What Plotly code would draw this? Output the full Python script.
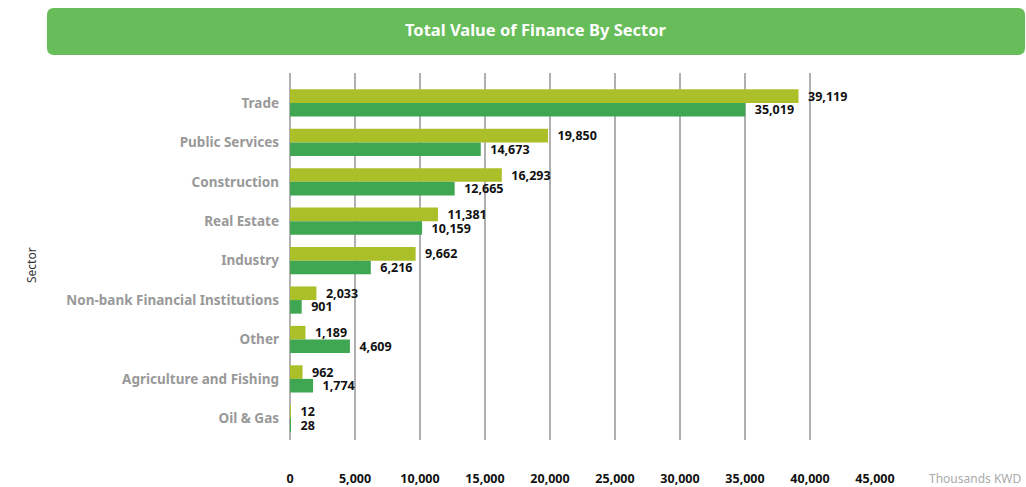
import plotly.graph_objects as go

sectors = ["Trade", "Public Services", "Construction", "Real Estate", "Industry",
           "Non-bank Financial Institutions", "Other", "Agriculture and Fishing", "Oil & Gas"]
series_a = [39119, 19850, 16293, 11381, 9662, 2033, 1189, 962, 12]
series_b = [35019, 14673, 12665, 10159, 6216, 901, 4609, 1774, 28]
x_ticks = [0, 5000, 10000, 15000, 20000, 25000, 30000, 35000, 40000, 45000]

FONT = "Noto Sans"
W, H = 1026, 487
ML, MR, MT, MB = 290, 151, 73, 47
PW, PH = W - ML - MR, H - MT - MB

def px2paper(x, y):
    return (x - ML) / PW, (H - MB - y) / PH

PAD = "\u00a0\u00a0"
label_font = dict(family=FONT, size=12.5, color="#111111", weight="bold")

fig = go.Figure()
fig.add_trace(go.Bar(
    y=sectors, x=series_a, orientation="h", name="Series A",
    marker=dict(color="#ABBF28", line=dict(width=0)),
    text=[PAD + f"{v:,}" for v in series_a], textposition="outside",
    textfont=label_font, constraintext="none", cliponaxis=False,
))
fig.add_trace(go.Bar(
    y=sectors, x=series_b, orientation="h", name="Series B",
    marker=dict(color="#3FA652", line=dict(width=0)),
    text=[PAD + f"{v:,}" for v in series_b], textposition="outside",
    textfont=label_font, constraintext="none", cliponaxis=False,
))

# rounded title banner
x0, x1, y0, y1, r = 47, 1025, 8, 55, 7
def P(x, y):
    a, b = px2paper(x, y)
    return f"{a:.5f},{b:.5f}"
path = (f"M {P(x0+r, y0)} L {P(x1-r, y0)} Q {P(x1, y0)} {P(x1, y0+r)} "
        f"L {P(x1, y1-r)} Q {P(x1, y1)} {P(x1-r, y1)} L {P(x0+r, y1)} "
        f"Q {P(x0, y1)} {P(x0, y1-r)} L {P(x0, y0+r)} Q {P(x0, y0)} {P(x0+r, y0)} Z")

tx, ty = px2paper(536, 29)
kx, ky = px2paper(975, 479)
sx, sy = px2paper(31, 265)

fig.update_layout(
    width=W, height=H,
    margin=dict(l=ML, r=MR, t=MT, b=MB, autoexpand=False),
    paper_bgcolor="white", plot_bgcolor="white",
    barmode="group", bargap=0.31, bargroupgap=0,
    showlegend=False,
    font=dict(family=FONT),
    shapes=[dict(type="path", path=path, xref="paper", yref="paper",
                 fillcolor="#67BD5A", line=dict(width=0), layer="below")],
    annotations=[
        dict(text="<b>Total Value of Finance By Sector</b>", x=tx, y=ty,
             xref="paper", yref="paper", showarrow=False,
             xanchor="center", yanchor="middle",
             font=dict(family=FONT, size=16.5, color="white")),
        dict(text="Thousands KWD", x=kx, y=ky, xref="paper", yref="paper",
             showarrow=False, xanchor="center", yanchor="middle",
             font=dict(family=FONT, size=12, color="#AAAAAA")),
        dict(text="Sector", x=sx, y=sy, xref="paper", yref="paper", textangle=-90,
             showarrow=False, xanchor="center", yanchor="middle",
             font=dict(family=FONT, size=12, color="#333333")),
    ],
    xaxis=dict(range=[0, 45000], tickvals=x_ticks,
               ticktext=[f"{v:,}" for v in x_ticks],
               showgrid=True, gridcolor="#B0B0B0", gridwidth=2,
               zeroline=True, zerolinecolor="#B0B0B0", zerolinewidth=2,
               showline=False, ticks="", ticklabelstandoff=29, automargin=False,
               tickfont=dict(family=FONT, size=12.5, color="#111111", weight="bold")),
    yaxis=dict(type="category", range=[8.55, -0.76], showgrid=False,
               zeroline=False, showline=False, ticks="", ticklabelstandoff=10,
               automargin=False,
               tickfont=dict(family=FONT, size=13.5, color="#999999", weight="bold")),
)

fig.write_html("out.html", config={"displayModeBar": False},
               post_script="document.body.style.margin='0';")
